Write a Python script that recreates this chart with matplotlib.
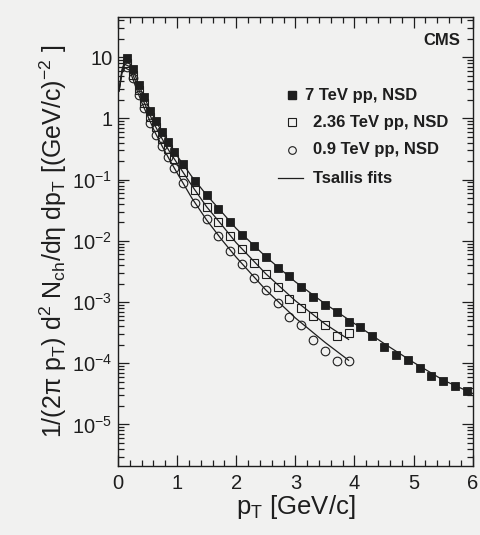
import numpy as np
import matplotlib
matplotlib.use("Agg")
import matplotlib.pyplot as plt
from matplotlib.ticker import FixedLocator, FixedFormatter, LogLocator, MultipleLocator, NullFormatter

# -------------------------
# Data
# -------------------------
pt_7 = [0.15, 0.25, 0.35, 0.45, 0.55, 0.65, 0.75, 0.85, 0.95, 1.1, 1.3, 1.5, 1.7, 1.9,
        2.1, 2.3, 2.5, 2.7, 2.9, 3.1, 3.3, 3.5, 3.7, 3.9, 4.1, 4.3, 4.5, 4.7, 4.9,
        5.1, 5.3, 5.5, 5.7, 5.9]
y_7 = [9.5, 6.3, 3.5, 2.2, 1.3, 0.89, 0.59, 0.41, 0.285, 0.18, 0.096, 0.056, 0.033, 0.020,
       0.0125, 8.3e-3, 5.4e-3, 3.6e-3, 2.67e-3, 1.73e-3, 1.23e-3, 9.0e-4, 7.0e-4, 4.7e-4,
       3.9e-4, 2.74e-4, 1.84e-4, 1.38e-4, 1.11e-4, 8.5e-5, 6.3e-5, 5.2e-5, 4.3e-5, 3.5e-5]

pt_236 = [0.15, 0.25, 0.35, 0.45, 0.55, 0.65, 0.75, 0.85, 0.95, 1.1, 1.3, 1.5, 1.7, 1.9,
          2.1, 2.3, 2.5, 2.7, 2.9, 3.1, 3.3, 3.5, 3.7, 3.9]
y_236 = [8.1, 5.2, 2.9, 1.78, 1.05, 0.71, 0.46, 0.31, 0.216, 0.135, 0.068, 0.036, 0.0206,
         0.012, 7.3e-3, 4.3e-3, 2.9e-3, 1.79e-3, 1.13e-3, 7.9e-4, 6.0e-4, 4.25e-4,
         2.74e-4, 3.1e-4]

pt_09 = [0.15, 0.25, 0.35, 0.45, 0.55, 0.65, 0.75, 0.85, 0.95, 1.1, 1.3, 1.5, 1.7, 1.9,
         2.1, 2.3, 2.5, 2.7, 2.9, 3.1, 3.3, 3.5, 3.7, 3.9]
y_09 = [6.9, 4.5, 2.45, 1.48, 0.83, 0.54, 0.35, 0.23, 0.155, 0.087, 0.042, 0.0224, 0.012,
        6.9e-3, 4.15e-3, 2.5e-3, 1.58e-3, 9.8e-4, 5.8e-4, 4.25e-4, 2.4e-4, 1.56e-4,
        1.1e-4, 1.07e-4]

# Tsallis fit curves (read at a few pT values)
fit_pt_7 = [0.02, 0.07, 0.12, 0.2, 0.3, 0.4, 0.5, 0.625, 0.75, 0.875, 1.0, 1.25, 1.5, 1.75,
            2.0, 2.5, 3.0, 3.5, 4.0, 4.5, 5.0, 5.5, 6.0]
fit_y_7 = [2.8, 6.3, 8.5, 8.0, 4.8, 2.75, 1.7, 0.97, 0.59, 0.37, 0.245, 0.112, 0.056, 0.030,
           0.0159, 5.5e-3, 2.14e-3, 9.4e-4, 4.45e-4, 2.1e-4, 1.03e-4, 5.3e-5, 3.2e-5]

fit_pt_236 = [0.02, 0.07, 0.12, 0.2, 0.3, 0.4, 0.5, 0.625, 0.75, 0.875, 1.0, 1.25, 1.5, 1.75,
              2.0, 2.5, 3.0, 3.5, 3.9]
fit_y_236 = [2.8, 5.9, 7.6, 7.0, 4.0, 2.25, 1.38, 0.77, 0.46, 0.285, 0.186, 0.080, 0.036,
             0.0185, 9.3e-3, 2.9e-3, 1.05e-3, 4.4e-4, 2.45e-4]

fit_pt_09 = [0.02, 0.07, 0.12, 0.2, 0.3, 0.4, 0.5, 0.625, 0.75, 0.875, 1.0, 1.25, 1.5, 1.75,
             2.0, 2.5, 3.0, 3.5, 3.9]
fit_y_09 = [2.8, 5.5, 6.7, 6.1, 3.3, 1.85, 1.12, 0.6, 0.35, 0.21, 0.129, 0.050, 0.0219,
            0.0106, 5.4e-3, 1.58e-3, 5.5e-4, 2.2e-4, 1.12e-4]

legend_labels = ["7 TeV pp, NSD", "2.36 TeV pp, NSD", "0.9 TeV pp, NSD", "Tsallis fits"]
ytick_vals = [1e-5, 1e-4, 1e-3, 1e-2, 1e-1, 1, 10]
ytick_labels = [r"$10^{-5}$", r"$10^{-4}$", r"$10^{-3}$", r"$10^{-2}$", r"$10^{-1}$", "1", "10"]

# -------------------------
# Style
# -------------------------
plt.rcParams["font.family"] = ["Liberation Sans", "DejaVu Sans"]
plt.rcParams["mathtext.fontset"] = "custom"
plt.rcParams["mathtext.rm"] = "Liberation Sans"
plt.rcParams["mathtext.it"] = "Liberation Sans:italic"
plt.rcParams["mathtext.bf"] = "Liberation Sans:bold"
plt.rcParams["mathtext.default"] = "rm"

bg = "#f1f1f0"
ink = "#1e1e1e"

fig = plt.figure(figsize=(4.81, 5.35), dpi=100, facecolor=bg)
ax = fig.add_axes([0.245, 0.129, 0.738, 0.839], facecolor=bg)

# fits
ax.plot(fit_pt_7, fit_y_7, color=ink, lw=0.9)
ax.plot(fit_pt_236, fit_y_236, color=ink, lw=0.9)
ax.plot(fit_pt_09, fit_y_09, color=ink, lw=0.9)

# data
ax.plot(pt_7, y_7, ls="none", marker="s", ms=6.2, mfc=ink, mec=ink, mew=0.6)
ax.plot(pt_236, y_236, ls="none", marker="s", ms=6.2, mfc="none", mec=ink, mew=0.8)
ax.plot(pt_09, y_09, ls="none", marker="o", ms=6.2, mfc="none", mec=ink, mew=0.8)

ax.set_yscale("log")
ax.set_xlim(0, 6)
ax.set_ylim(2.1e-6, 45)

ax.xaxis.set_major_locator(MultipleLocator(1))
ax.xaxis.set_minor_locator(MultipleLocator(0.2))
ax.yaxis.set_major_locator(FixedLocator(ytick_vals))
ax.yaxis.set_major_formatter(FixedFormatter(ytick_labels))
ax.yaxis.set_minor_locator(LogLocator(base=10, subs=np.arange(2, 10), numticks=20))
ax.yaxis.set_minor_formatter(NullFormatter())

ax.tick_params(which="both", direction="in", top=True, right=True, colors=ink,
               labelsize=14.5, width=0.9)
ax.tick_params(which="major", length=8)
ax.tick_params(which="minor", length=4)
ax.tick_params(axis="x", which="major", pad=6)
ax.tick_params(axis="y", which="major", pad=4)
for s in ax.spines.values():
    s.set_linewidth(1.0)
    s.set_color(ink)

ax.set_xlabel(r"p$_\mathrm{T}$ [GeV/c]", fontsize=18.5, labelpad=0, color=ink)
ax.set_ylabel(r"1/(2$\pi$ p$_\mathrm{T}$) d$^2$ N$_\mathrm{ch}$/d$\eta$ dp$_\mathrm{T}$ [(GeV/c)$^{-2}$ ]",
              fontsize=18, labelpad=2, color=ink)

# legend drawn by hand in axes coords
lx_marker, lx_text = 0.490, 0.549
ly = [0.826, 0.766, 0.704, 0.641]
ax.plot([lx_marker], [ly[0]], transform=ax.transAxes, marker="s", ms=5.5, mfc=ink, mec=ink, ls="none")
ax.plot([lx_marker], [ly[1]], transform=ax.transAxes, marker="s", ms=5.5, mfc="none", mec=ink, mew=0.8, ls="none")
ax.plot([lx_marker], [ly[2]], transform=ax.transAxes, marker="o", ms=5.5, mfc="none", mec=ink, mew=0.8, ls="none")
ax.plot([0.451, 0.521], [ly[3], ly[3]], transform=ax.transAxes, color=ink, lw=0.9)
for i, (yy, lab) in enumerate(zip(ly, legend_labels)):
    xx = 0.527 if i == 0 else lx_text
    ax.text(xx, yy, lab, transform=ax.transAxes, fontsize=12, fontweight="bold",
            ha="left", va="center", color=ink)

ax.text(0.965, 0.949, "CMS", transform=ax.transAxes, fontsize=12, fontweight="bold",
        ha="right", va="center", color=ink)

fig.savefig("out.png", dpi=100, facecolor=bg)
